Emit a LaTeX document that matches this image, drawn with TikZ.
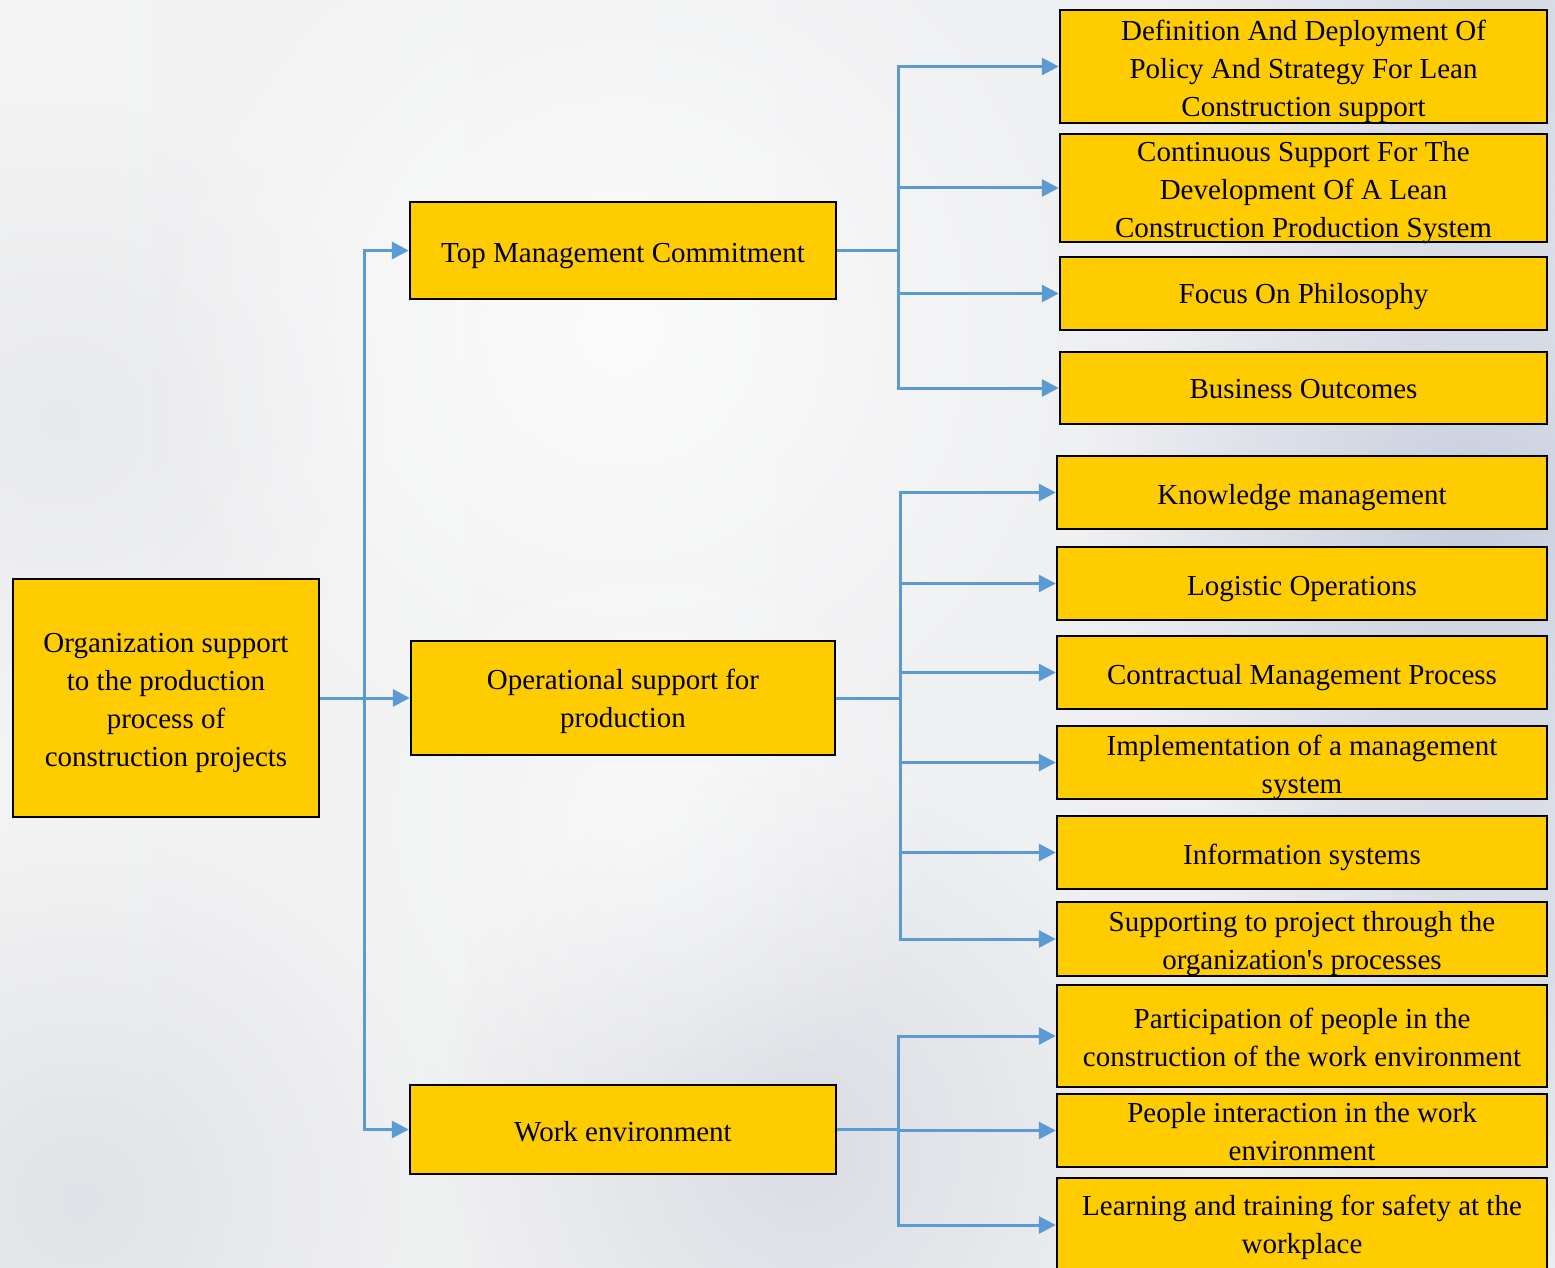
\documentclass[tikz,border=0pt]{standalone}
\usepackage{fontspec}
\setmainfont{Liberation Serif}[Ligatures=TeXOff]
\usetikzlibrary{arrows.meta,fadings}
\definecolor{boxyellow}{HTML}{FFCC00}
\definecolor{linkblue}{HTML}{5B9BD5}
\definecolor{bgleft}{HTML}{F3F3F3}
\definecolor{bgright}{HTML}{EDEEF1}
\definecolor{cloud}{HTML}{C6CDDC}
\definecolor{haze}{HTML}{D8DBE2}

\tikzfading[name=softball, inner color=transparent!0, outer color=transparent!100]

\begin{document}
\begin{tikzpicture}[x=1pt,y=-1pt,
  box/.style={draw=black, line width=2.4pt, fill=boxyellow, inner sep=0pt},
  txt/.style={align=center, inner sep=0pt, font=\fontsize{29}{38}\selectfont},
  link/.style={draw=linkblue, line width=3pt},
  arr/.style={link, -{Triangle[length=17pt,width=17pt]}},
  soft/.style={path fading=softball}]

\useasboundingbox (0,0) rectangle (1555,1268);

% cloudy backdrop
\begin{scope}
  \clip (0,0) rectangle (1555,1268);
  \shade[left color=bgleft, right color=bgright] (0,0) rectangle (1555,1268);
  \fill[cloud, soft, opacity=0.7] (1500,60) circle (330);
  \fill[cloud, soft, opacity=1] (1470,520) circle (380);
  \fill[cloud, soft, opacity=0.6] (1500,950) circle (320);
  \fill[haze, soft, opacity=0.7] (80,1200) circle (380);
  \fill[haze, soft, opacity=0.9] (800,1150) circle (380);
  \fill[haze, soft, opacity=0.4] (60,420) circle (320);
  \fill[white, soft, opacity=0.7] (620,330) circle (480);
  \fill[white, soft, opacity=0.5] (650,820) circle (300);
\end{scope}

% root
\node[box, minimum width=306pt, minimum height=238pt] (root) at (166,698) {};
\node[txt] (roott) at ([yshift=-5pt]root.center)
  {Organization support\\to the production\\process of\\construction projects};

% second level
\node[box, minimum width=426pt, minimum height=97pt] (tmc) at (623,250.5) {};
\node[txt] (tmct) at ([yshift=-6pt]tmc.center) {Top Management Commitment};
\node[box, minimum width=424pt, minimum height=114pt] (ops) at (623,698) {};
\node[txt] (opst) at ([yshift=-3pt]ops.center) {Operational support for\\production};
\node[box, minimum width=426pt, minimum height=89pt] (wenv) at (623,1129.5) {};
\node[txt] (wenvt) at ([yshift=-2pt]wenv.center) {Work environment};

% third level: top management
\node[box, minimum width=487pt, minimum height=113pt] (r1) at (1303.5,66.5) {};
\node[txt] (r1t) at ([yshift=-5pt]r1.center)
  {Definition And Deployment Of\\Policy And Strategy For Lean\\Construction support};
\node[box, minimum width=487pt, minimum height=108pt] (r2) at (1303.5,188) {};
\node[txt] (r2t) at ([yshift=-5pt]r2.center)
  {Continuous Support For The\\Development Of A Lean\\Construction Production System};
\node[box, minimum width=487pt, minimum height=73pt] (r3) at (1303.5,293.5) {};
\node[txt] (r3t) at ([yshift=-3pt]r3.center) {Focus On Philosophy};
\node[box, minimum width=487pt, minimum height=72pt] (r4) at (1303.5,388) {};
\node[txt] (r4t) at ([yshift=-1pt]r4.center) {Business Outcomes};

% third level: operational support
\node[box, minimum width=490pt, minimum height=73pt] (r5) at (1302,492.5) {};
\node[txt] (r5t) at ([yshift=-5pt]r5.center) {Knowledge management};
\node[box, minimum width=490pt, minimum height=73pt] (r6) at (1302,583.5) {};
\node[txt] (r6t) at ([yshift=-6pt]r6.center) {Logistic Operations};
\node[box, minimum width=490pt, minimum height=73pt] (r7) at (1302,672.5) {};
\node[txt] (r7t) at ([yshift=-5pt]r7.center) {Contractual Management Process};
\node[box, minimum width=490pt, minimum height=73pt] (r8) at (1302,762.5) {};
\node[txt] (r8t) at ([yshift=-5pt]r8.center) {Implementation of a management\\system};
\node[box, minimum width=490pt, minimum height=73pt] (r9) at (1302,852.5) {};
\node[txt] (r9t) at ([yshift=-5pt]r9.center) {Information systems};
\node[box, minimum width=490pt, minimum height=74pt] (r10) at (1302,939) {};
\node[txt] (r10t) at ([yshift=-5pt]r10.center)
  {Supporting to project through the\\organization's processes};

% third level: work environment
\node[box, minimum width=490pt, minimum height=102pt] (r11) at (1302,1036) {};
\node[txt] (r11t) at ([yshift=-1pt]r11.center)
  {Participation of people in the\\construction of the work environment};
\node[box, minimum width=490pt, minimum height=73pt] (r12) at (1302,1130.5) {};
\node[txt] (r12t) at ([yshift=-1pt]r12.center) {People interaction in the work\\environment};
\node[box, minimum width=490pt, minimum height=94pt] (r13) at (1302,1225) {};
\node[txt] (r13t) at ([yshift=-2pt]r13.center)
  {Learning and training for safety at the\\workplace};

% bus lines
\coordinate (trunk) at (364,0);
\coordinate (busA) at (898,0);
\coordinate (busB) at (900,0);
\coordinate (busC) at (898,0);

% root to second level
\draw[arr] (root.east) -- (root.east -| trunk) |- (tmc.west);
\draw[arr] (root.east) -- (ops.west);
\draw[arr] (root.east) -- (root.east -| trunk) |- (wenv.west);

% top management branches
\foreach \t in {r1,r2,r3,r4}
  \draw[arr] (tmc.east) -- (tmc.east -| busA) |- (\t.west);

% operational branches
\foreach \t in {r5,r6,r7,r8,r9,r10}
  \draw[arr] (ops.east) -- (ops.east -| busB) |- (\t.west);

% work environment branches
\foreach \t in {r11,r12,r13}
  \draw[arr] (wenv.east) -- (wenv.east -| busC) |- (\t.west);

\end{tikzpicture}
\end{document}
